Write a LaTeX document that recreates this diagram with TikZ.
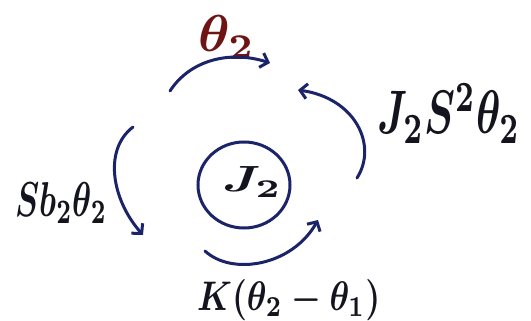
\documentclass[tikz,border=0pt]{standalone}
\usepackage{graphicx}
\usetikzlibrary{arrows.meta}
\definecolor{ink}{RGB}{28,36,105}
\definecolor{txt}{RGB}{20,20,30}
\definecolor{redink}{RGB}{110,20,20}
\tikzset{
  flow/.style={draw=ink,line width=3pt,line cap=round,-{Straight Barb[length=7pt,width=15pt,line width=3pt]}},
  lbl/.style={inner sep=0pt,text=txt,font=\boldmath},
}
\begin{document}
\begin{tikzpicture}[x=1pt,y=-1pt]
\useasboundingbox[fill=white] (0,0) rectangle (531,321);
% body
\draw[ink,line width=3pt] (244,185) ellipse [x radius=46, y radius=43];
\node[lbl,anchor=base west] (body) at (222,192) {\resizebox{60pt}{25pt}{$J_2$}};
% labels
\node[lbl,anchor=base west,text=redink] (ltop) at (198,52) {\resizebox{57pt}{36pt}{$\theta_2$}};
\node[lbl,anchor=base west] (lright) at (377,134) {\resizebox{143pt}{50pt}{$J_2S^2\theta_2$}};
\node[lbl,anchor=base west] (lbot) at (197,310) {\resizebox{183pt}{31pt}{$K(\theta_2-\theta_1)$}};
\node[lbl,anchor=base west] (lleft) at (15,216) {\resizebox{92pt}{34pt}{$Sb_2\theta_2$}};
% arrow end points
\coordinate (t0) at (170,91); \coordinate (t1) at (270,63);
\coordinate (r0) at (357,178); \coordinate (r1) at (298,90);
\coordinate (b0) at (205,251); \coordinate (b1) at (318,220);
\coordinate (l0) at (133,127); \coordinate (l1) at (143,235);
\draw[flow] (t0) .. controls (190,60) and (230,50) .. (t1);
\draw[flow] (r0) .. controls (378,145) and (355,98) .. (r1);
\draw[flow] (b0) .. controls (232,276) and (292,266) .. (b1);
\draw[flow] (l0) .. controls (103,150) and (112,200) .. (l1);
\end{tikzpicture}
\end{document}
